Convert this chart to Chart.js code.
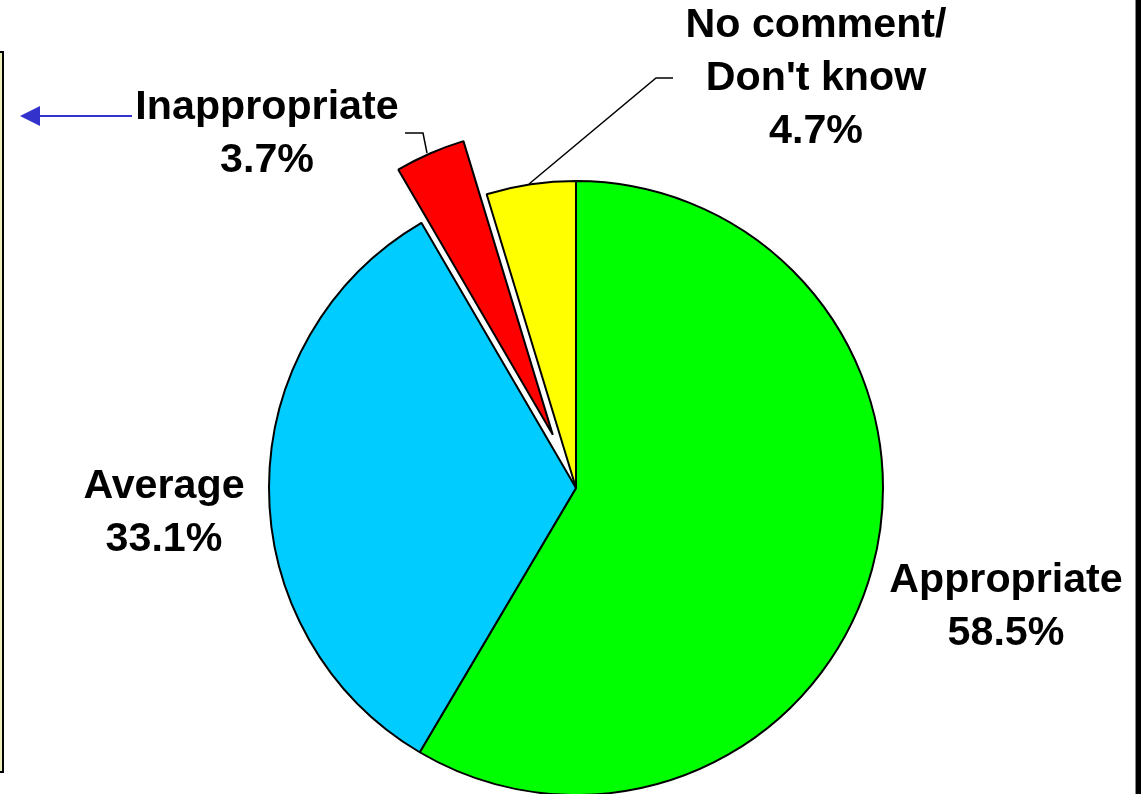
<!DOCTYPE html>
<html>
<head>
<meta charset="utf-8">
<script src="https://cdn.jsdelivr.net/npm/chart.js@4/dist/chart.umd.min.js"></script>
<style>
  html, body { margin: 0; padding: 0; background: #fff; }
  #wrap { width: 1148px; height: 794px; position: relative; }
</style>
</head>
<body>
<div id="wrap"><canvas id="pie"></canvas></div>
<script>
// data
const categories = ['Appropriate', 'Average', 'Inappropriate', 'No comment/\nDon\'t know'];
const shares = [58.5, 33.1, 3.7, 4.7];
const sliceColors = ['#00ff00', '#00ccff', '#ff0000', '#ffff00'];

// pull-out distance per slice, px
const explode = [0, 0, 58, 0];

// where each label block sits (center x, first baseline)
const labelPos = [[1006, 592], [164, 498], [267, 119], [816, 37]];

const explodePlugin = {
  id: 'explode',
  afterDatasetUpdate(chart, args) {
    const meta = chart.getDatasetMeta(args.index);
    meta.data.forEach((arc, i) => {
      const d = explode[i];
      if (!d) return;
      const mid = (arc.startAngle + arc.endAngle) / 2;
      arc.x += Math.cos(mid) * d;
      arc.y += Math.sin(mid) * d;
    });
  }
};

const decorPlugin = {
  id: 'decor',
  beforeDraw(chart) {
    const ctx = chart.ctx;
    ctx.save();
    // left frame edge
    ctx.fillStyle = '#eeeebb';
    ctx.fillRect(-4, 52, 7, 720);
    ctx.strokeStyle = '#000';
    ctx.lineWidth = 2;
    ctx.strokeRect(-4, 52, 7, 720);
    // right bar
    ctx.fillStyle = '#888';
    ctx.fillRect(1135, 0, 1, 794);
    ctx.fillStyle = '#000';
    ctx.fillRect(1136, 0, 5, 794);
    ctx.restore();
  },
  afterDraw(chart) {
    const ctx = chart.ctx;
    ctx.save();
    // leader lines
    ctx.strokeStyle = '#000';
    ctx.lineWidth = 1.5;
    ctx.beginPath();
    ctx.moveTo(405, 133); ctx.lineTo(423, 133); ctx.lineTo(427, 153);
    ctx.moveTo(673, 78); ctx.lineTo(656, 78); ctx.lineTo(529, 184);
    ctx.stroke();
    // blue arrow
    ctx.strokeStyle = '#3333cc';
    ctx.fillStyle = '#3333cc';
    ctx.lineWidth = 2;
    ctx.beginPath();
    ctx.moveTo(132, 116); ctx.lineTo(36, 116);
    ctx.stroke();
    ctx.beginPath();
    ctx.moveTo(20, 116); ctx.lineTo(40, 106); ctx.lineTo(40, 126); ctx.closePath();
    ctx.fill();
    // labels
    ctx.fillStyle = '#000';
    ctx.font = 'bold 40px "Liberation Sans", Arial, sans-serif';
    ctx.textAlign = 'center';
    ctx.textBaseline = 'alphabetic';
    categories.forEach((name, i) => {
      const lines = name.split('\n').concat(shares[i].toFixed(1) + '%');
      const [x, y] = labelPos[i];
      lines.forEach((t, k) => {
        ctx.save();
        ctx.translate(x, y + k * 53);
        ctx.scale(1.03, 1);
        ctx.fillText(t, 0, 0);
        ctx.restore();
      });
    });
    ctx.restore();
  }
};

new Chart(document.getElementById('pie'), {
  type: 'pie',
  data: {
    labels: categories,
    datasets: [{
      data: shares,
      backgroundColor: sliceColors,
      borderColor: '#000',
      borderWidth: 2,
      clip: false
    }]
  },
  options: {
    responsive: true,
    maintainAspectRatio: false,
    animation: false,
    radius: 307,
    layout: { padding: { left: 4, top: 182, right: 0, bottom: 0 } },
    plugins: { legend: { display: false }, tooltip: { enabled: false } }
  },
  plugins: [explodePlugin, decorPlugin]
});
</script>
</body>
</html>
